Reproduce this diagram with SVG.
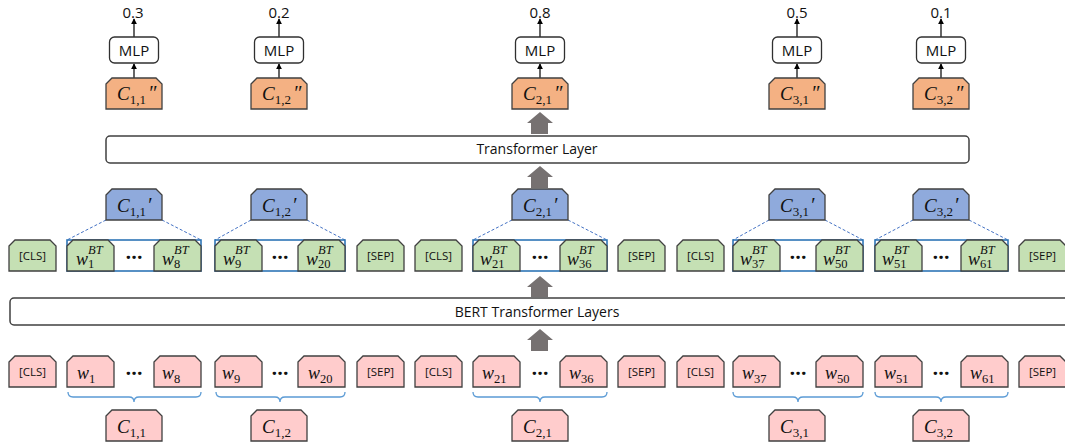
<svg xmlns="http://www.w3.org/2000/svg" width="1065" height="446" viewBox="0 0 1065 446">
<style>
.tk{stroke:#404040;stroke-width:1.3}
.pk{fill:#FFCCCC}
.gr{fill:#C5E0B4}
.bl{fill:#8FAADC}
.or{fill:#F4B183}
.bar{fill:#fff;stroke:#404040;stroke-width:1.5}
.mlp{fill:#fff;stroke:#303030;stroke-width:1.3}
.grp{fill:none;stroke:#2E75B6;stroke-width:1.6}
.dash{stroke:#4472C4;stroke-width:1;stroke-dasharray:3 2;fill:none}
.brace{fill:none;stroke:#5B9BD5;stroke-width:1.3}
.thin{stroke:#000;stroke-width:1.2;fill:none;marker-end:url(#ah)}
.big{fill:#767171}
.sans{font-family:"Open Sans","Liberation Sans",sans-serif;fill:#111}
.lbl{font-size:11.5px;text-anchor:middle}
.t14{font-size:14px;text-anchor:middle}
.t15{font-size:15px;text-anchor:middle}
.dots{font-family:"Open Sans","Liberation Sans",sans-serif;font-weight:bold;font-size:20px;text-anchor:middle;fill:#111}
.mi{font-family:"Liberation Serif","DejaVu Serif",serif;font-style:italic;fill:#111}
.up{font-family:"Liberation Serif","DejaVu Serif",serif;fill:#111}
</style>
<defs>
<path id="tok" d="M0,6 L6,0 L41,0 L47,6 L47,31 L0,31 Z"/>
<path id="cb" d="M0,6 L6,0 L50,0 L56,6 L56,31 L0,31 Z"/>
<marker id="ah" viewBox="0 0 8 8" refX="7" refY="4" markerWidth="6" markerHeight="6" markerUnits="userSpaceOnUse" orient="auto"><path d="M0,0 L8,4 L0,8 Z" fill="#000"/></marker>
</defs>

<!-- bars -->
<g id="transformer-layer">
<rect class="bar" x="106" y="136" width="863" height="27" rx="4"/>
<text class="sans t14" x="537" y="154">Transformer Layer</text>
</g>
<g id="bert-layers">
<rect class="bar" x="10" y="298" width="1070" height="27" rx="4"/>
<text class="sans t14" x="537" y="317">BERT Transformer Layers</text>
</g>

<!-- connectors -->
<g id="connectors">
<line class="thin" x1="134" y1="79" x2="134" y2="64"/>
<line class="thin" x1="134" y1="37" x2="134" y2="19"/>
<line class="thin" x1="279" y1="79" x2="279" y2="64"/>
<line class="thin" x1="279" y1="37" x2="279" y2="19"/>
<line class="thin" x1="540" y1="79" x2="540" y2="64"/>
<line class="thin" x1="540" y1="37" x2="540" y2="19"/>
<line class="thin" x1="797" y1="79" x2="797" y2="64"/>
<line class="thin" x1="797" y1="37" x2="797" y2="19"/>
<line class="thin" x1="941" y1="79" x2="941" y2="64"/>
<line class="thin" x1="941" y1="37" x2="941" y2="19"/>
<polygon class="big" points="540,112 553,123 548,123 548,134 531,134 531,123 527,123"/>
<polygon class="big" points="540,166 553,177 548,177 548,188 531,188 531,177 527,177"/>
<polygon class="big" points="540,276 553,287 548,287 548,297 531,297 531,287 527,287"/>
<polygon class="big" points="540,329 553,340 548,340 548,351 531,351 531,340 527,340"/>
<line class="dash" x1="106" y1="220" x2="67" y2="240"/>
<line class="dash" x1="162" y1="220" x2="201" y2="240"/>
<line class="dash" x1="251" y1="220" x2="215" y2="240"/>
<line class="dash" x1="307" y1="220" x2="345" y2="240"/>
<line class="dash" x1="512" y1="220" x2="473" y2="240"/>
<line class="dash" x1="568" y1="220" x2="607" y2="240"/>
<line class="dash" x1="769" y1="220" x2="733" y2="240"/>
<line class="dash" x1="825" y1="220" x2="863" y2="240"/>
<line class="dash" x1="913" y1="220" x2="875" y2="240"/>
<line class="dash" x1="969" y1="220" x2="1008" y2="240"/>
<path class="brace" d="M68,392 Q68,397 73,397 L129,397 Q134,397 134,402 Q134,397 139,397 L196,397 Q201,397 201,392"/>
<path class="brace" d="M216,392 Q216,397 221,397 L275,397 Q280,397 280,402 Q280,397 285,397 L340,397 Q345,397 345,392"/>
<path class="brace" d="M473,392 Q473,397 478,397 L535,397 Q540,397 540,402 Q540,397 545,397 L602,397 Q607,397 607,392"/>
<path class="brace" d="M733,392 Q733,397 738,397 L793,397 Q798,397 798,402 Q798,397 803,397 L858,397 Q863,397 863,392"/>
<path class="brace" d="M875,392 Q875,397 880,397 L936,397 Q941,397 941,402 Q941,397 946,397 L1003,397 Q1008,397 1008,392"/>
</g>

<!-- top outputs -->
<g id="out-1">
<text class="sans t15" x="133" y="18">0.3</text>
<rect class="mlp" x="109.5" y="37" width="49" height="26" rx="5"/>
<text class="sans t15" x="134" y="55.5">MLP</text>
<use href="#cb" x="106" y="78" class="tk or"/>
<text class="mi" x="117" y="100" font-size="19">C<tspan class="up" font-style="normal" font-size="13" dy="4">1,1</tspan><tspan font-size="20" dy="-4" dx="2">″</tspan></text>
</g>
<g id="out-2">
<text class="sans t15" x="279" y="18">0.2</text>
<rect class="mlp" x="254.5" y="37" width="49" height="26" rx="5"/>
<text class="sans t15" x="279" y="55.5">MLP</text>
<use href="#cb" x="251" y="78" class="tk or"/>
<text class="mi" x="262" y="100" font-size="19">C<tspan class="up" font-style="normal" font-size="13" dy="4">1,2</tspan><tspan font-size="20" dy="-4" dx="2">″</tspan></text>
</g>
<g id="out-3">
<text class="sans t15" x="540" y="18">0.8</text>
<rect class="mlp" x="515.5" y="37" width="49" height="26" rx="5"/>
<text class="sans t15" x="540" y="55.5">MLP</text>
<use href="#cb" x="512" y="78" class="tk or"/>
<text class="mi" x="523" y="100" font-size="19">C<tspan class="up" font-style="normal" font-size="13" dy="4">2,1</tspan><tspan font-size="20" dy="-4" dx="2">″</tspan></text>
</g>
<g id="out-4">
<text class="sans t15" x="797" y="18">0.5</text>
<rect class="mlp" x="772.5" y="37" width="49" height="26" rx="5"/>
<text class="sans t15" x="797" y="55.5">MLP</text>
<use href="#cb" x="769" y="78" class="tk or"/>
<text class="mi" x="780" y="100" font-size="19">C<tspan class="up" font-style="normal" font-size="13" dy="4">3,1</tspan><tspan font-size="20" dy="-4" dx="2">″</tspan></text>
</g>
<g id="out-5">
<text class="sans t15" x="941" y="18">0.1</text>
<rect class="mlp" x="916.5" y="37" width="49" height="26" rx="5"/>
<text class="sans t15" x="941" y="55.5">MLP</text>
<use href="#cb" x="913" y="78" class="tk or"/>
<text class="mi" x="924" y="100" font-size="19">C<tspan class="up" font-style="normal" font-size="13" dy="4">3,2</tspan><tspan font-size="20" dy="-4" dx="2">″</tspan></text>
</g>

<!-- C' nodes -->
<g id="cp-11"><use href="#cb" x="106" y="189" class="tk bl"/>
<text class="mi" x="117" y="212" font-size="19">C<tspan class="up" font-style="normal" font-size="13" dy="4">1,1</tspan><tspan font-size="20" dy="-4" dx="1">′</tspan></text></g>
<g id="cp-12"><use href="#cb" x="251" y="189" class="tk bl"/>
<text class="mi" x="262" y="212" font-size="19">C<tspan class="up" font-style="normal" font-size="13" dy="4">1,2</tspan><tspan font-size="20" dy="-4" dx="1">′</tspan></text></g>
<g id="cp-21"><use href="#cb" x="512" y="189" class="tk bl"/>
<text class="mi" x="523" y="212" font-size="19">C<tspan class="up" font-style="normal" font-size="13" dy="4">2,1</tspan><tspan font-size="20" dy="-4" dx="1">′</tspan></text></g>
<g id="cp-31"><use href="#cb" x="769" y="189" class="tk bl"/>
<text class="mi" x="780" y="212" font-size="19">C<tspan class="up" font-style="normal" font-size="13" dy="4">3,1</tspan><tspan font-size="20" dy="-4" dx="1">′</tspan></text></g>
<g id="cp-32"><use href="#cb" x="913" y="189" class="tk bl"/>
<text class="mi" x="924" y="212" font-size="19">C<tspan class="up" font-style="normal" font-size="13" dy="4">3,2</tspan><tspan font-size="20" dy="-4" dx="1">′</tspan></text></g>

<!-- green row -->
<g id="g-cls1"><use href="#tok" x="9" y="240" class="tk gr"/><text class="sans lbl" x="32.5" y="260">[CLS]</text></g>
<g id="g-grp1">
<rect class="grp" x="67" y="240" width="134" height="31" fill="#fff"/>
<use href="#tok" x="67" y="240" class="tk gr"/><use href="#tok" x="154" y="240" class="tk gr"/>
<text class="mi" font-size="18" x="76" y="265">w</text><text class="mi" font-size="12.5" x="88" y="254">BT</text><text class="up" font-size="12.5" x="88" y="268">1</text>
<text class="dots" x="134" y="259">…</text>
<text class="mi" font-size="18" x="162" y="265">w</text><text class="mi" font-size="12.5" x="174" y="254">BT</text><text class="up" font-size="12.5" x="174" y="268">8</text>
</g>
<g id="g-grp2">
<rect class="grp" x="215" y="240" width="130" height="31" fill="#fff"/>
<use href="#tok" x="215" y="240" class="tk gr"/><use href="#tok" x="298" y="240" class="tk gr"/>
<text class="mi" font-size="18" x="223" y="265">w</text><text class="mi" font-size="12.5" x="235" y="254">BT</text><text class="up" font-size="12.5" x="235" y="268">9</text>
<text class="dots" x="280" y="259">…</text>
<text class="mi" font-size="18" x="306" y="265">w</text><text class="mi" font-size="12.5" x="318" y="254">BT</text><text class="up" font-size="12.5" x="318" y="268">20</text>
</g>
<g id="g-sep1"><use href="#tok" x="357" y="240" class="tk gr"/><text class="sans lbl" x="380.5" y="260">[SEP]</text></g>
<g id="g-cls2"><use href="#tok" x="415" y="240" class="tk gr"/><text class="sans lbl" x="438.5" y="260">[CLS]</text></g>
<g id="g-grp3">
<rect class="grp" x="473" y="240" width="134" height="31" fill="#fff"/>
<use href="#tok" x="473" y="240" class="tk gr"/><use href="#tok" x="560" y="240" class="tk gr"/>
<text class="mi" font-size="18" x="480" y="265">w</text><text class="mi" font-size="12.5" x="492" y="254">BT</text><text class="up" font-size="12.5" x="492" y="268">21</text>
<text class="dots" x="540" y="259">…</text>
<text class="mi" font-size="18" x="567" y="265">w</text><text class="mi" font-size="12.5" x="579" y="254">BT</text><text class="up" font-size="12.5" x="579" y="268">36</text>
</g>
<g id="g-sep2"><use href="#tok" x="618" y="240" class="tk gr"/><text class="sans lbl" x="641.5" y="260">[SEP]</text></g>
<g id="g-cls3"><use href="#tok" x="677" y="240" class="tk gr"/><text class="sans lbl" x="700.5" y="260">[CLS]</text></g>
<g id="g-grp4">
<rect class="grp" x="733" y="240" width="130" height="31" fill="#fff"/>
<use href="#tok" x="733" y="240" class="tk gr"/><use href="#tok" x="816" y="240" class="tk gr"/>
<text class="mi" font-size="18" x="740" y="265">w</text><text class="mi" font-size="12.5" x="752" y="254">BT</text><text class="up" font-size="12.5" x="752" y="268">37</text>
<text class="dots" x="798" y="259">…</text>
<text class="mi" font-size="18" x="823" y="265">w</text><text class="mi" font-size="12.5" x="835" y="254">BT</text><text class="up" font-size="12.5" x="835" y="268">50</text>
</g>
<g id="g-grp5">
<rect class="grp" x="875" y="240" width="133" height="31" fill="#fff"/>
<use href="#tok" x="875" y="240" class="tk gr"/><use href="#tok" x="961" y="240" class="tk gr"/>
<text class="mi" font-size="18" x="882" y="265">w</text><text class="mi" font-size="12.5" x="894" y="254">BT</text><text class="up" font-size="12.5" x="894" y="268">51</text>
<text class="dots" x="941" y="259">…</text>
<text class="mi" font-size="18" x="968" y="265">w</text><text class="mi" font-size="12.5" x="980" y="254">BT</text><text class="up" font-size="12.5" x="980" y="268">61</text>
</g>
<g id="g-sep3"><use href="#tok" x="1019" y="240" class="tk gr"/><text class="sans lbl" x="1042.5" y="260">[SEP]</text></g>

<!-- pink row -->
<g id="p-cls1"><use href="#tok" x="9" y="356" class="tk pk"/><text class="sans lbl" x="32.5" y="376">[CLS]</text></g>
<g id="p-grp1">
<use href="#tok" x="67" y="356" class="tk pk"/><use href="#tok" x="154" y="356" class="tk pk"/>
<text class="mi" font-size="18" x="77" y="379">w</text><text class="up" font-size="12.5" x="89" y="383">1</text>
<text class="dots" x="134" y="375">…</text>
<text class="mi" font-size="18" x="162" y="379">w</text><text class="up" font-size="12.5" x="174" y="383">8</text>
</g>
<g id="p-grp2">
<use href="#tok" x="215" y="356" class="tk pk"/><use href="#tok" x="298" y="356" class="tk pk"/>
<text class="mi" font-size="18" x="222" y="379">w</text><text class="up" font-size="12.5" x="234" y="383">9</text>
<text class="dots" x="280" y="375">…</text>
<text class="mi" font-size="18" x="308" y="379">w</text><text class="up" font-size="12.5" x="320" y="383">20</text>
</g>
<g id="p-sep1"><use href="#tok" x="357" y="356" class="tk pk"/><text class="sans lbl" x="380.5" y="376">[SEP]</text></g>
<g id="p-cls2"><use href="#tok" x="415" y="356" class="tk pk"/><text class="sans lbl" x="438.5" y="376">[CLS]</text></g>
<g id="p-grp3">
<use href="#tok" x="473" y="356" class="tk pk"/><use href="#tok" x="560" y="356" class="tk pk"/>
<text class="mi" font-size="18" x="482" y="379">w</text><text class="up" font-size="12.5" x="494" y="383">21</text>
<text class="dots" x="540" y="375">…</text>
<text class="mi" font-size="18" x="569" y="379">w</text><text class="up" font-size="12.5" x="581" y="383">36</text>
</g>
<g id="p-sep2"><use href="#tok" x="618" y="356" class="tk pk"/><text class="sans lbl" x="641.5" y="376">[SEP]</text></g>
<g id="p-cls3"><use href="#tok" x="677" y="356" class="tk pk"/><text class="sans lbl" x="700.5" y="376">[CLS]</text></g>
<g id="p-grp4">
<use href="#tok" x="733" y="356" class="tk pk"/><use href="#tok" x="816" y="356" class="tk pk"/>
<text class="mi" font-size="18" x="742" y="379">w</text><text class="up" font-size="12.5" x="754" y="383">37</text>
<text class="dots" x="798" y="375">…</text>
<text class="mi" font-size="18" x="825" y="379">w</text><text class="up" font-size="12.5" x="837" y="383">50</text>
</g>
<g id="p-grp5">
<use href="#tok" x="875" y="356" class="tk pk"/><use href="#tok" x="961" y="356" class="tk pk"/>
<text class="mi" font-size="18" x="884" y="379">w</text><text class="up" font-size="12.5" x="896" y="383">51</text>
<text class="dots" x="941" y="375">…</text>
<text class="mi" font-size="18" x="970" y="379">w</text><text class="up" font-size="12.5" x="982" y="383">61</text>
</g>
<g id="p-sep3"><use href="#tok" x="1019" y="356" class="tk pk"/><text class="sans lbl" x="1042.5" y="376">[SEP]</text></g>

<!-- bottom C nodes -->
<g id="c-11"><use href="#cb" x="106" y="410" class="tk pk"/>
<text class="mi" x="117" y="433" font-size="19">C<tspan class="up" font-style="normal" font-size="13" dy="4">1,1</tspan></text></g>
<g id="c-12"><use href="#cb" x="251" y="410" class="tk pk"/>
<text class="mi" x="262" y="433" font-size="19">C<tspan class="up" font-style="normal" font-size="13" dy="4">1,2</tspan></text></g>
<g id="c-21"><use href="#cb" x="512" y="410" class="tk pk"/>
<text class="mi" x="523" y="433" font-size="19">C<tspan class="up" font-style="normal" font-size="13" dy="4">2,1</tspan></text></g>
<g id="c-31"><use href="#cb" x="769" y="410" class="tk pk"/>
<text class="mi" x="780" y="433" font-size="19">C<tspan class="up" font-style="normal" font-size="13" dy="4">3,1</tspan></text></g>
<g id="c-32"><use href="#cb" x="913" y="410" class="tk pk"/>
<text class="mi" x="924" y="433" font-size="19">C<tspan class="up" font-style="normal" font-size="13" dy="4">3,2</tspan></text></g>
</svg>
